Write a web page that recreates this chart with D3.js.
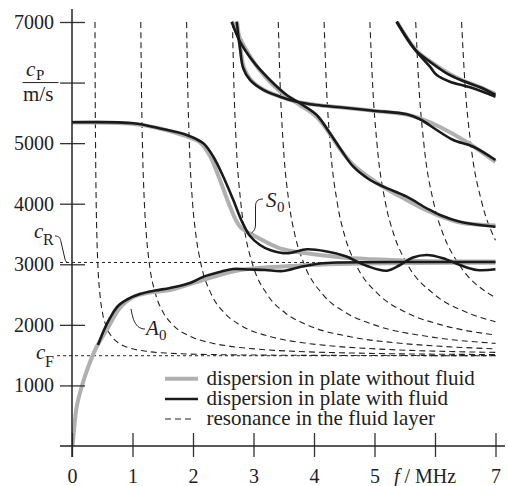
<!DOCTYPE html>
<html>
<head>
<meta charset="utf-8">
<script src="https://cdn.jsdelivr.net/npm/d3@7/dist/d3.min.js"></script>
<style>
  body { margin: 0; background: #fff; }
  text { font-family: "Liberation Serif", "Times New Roman", serif; fill: #222; }
</style>
</head>
<body>
<script>
// axis ticks
const fTicks = [0, 1, 2, 3, 4, 5, 6, 7];
const cTicks = [1000, 2000, 3000, 4000, 5000, 6000, 7000];
const cR = 3030;
const cF = 1490;

// dispersion in plate without fluid  [f / MHz, c / m/s]
const a0Plate = [[0,0],[0.012,45],[0.033,264],[0.078,649],[0.16,979],[0.269,1309],[0.408,1639],[0.574,1915],[0.793,2278],[1.013,2460],[1.289,2534],[1.62,2576],[2.116,2724],[2.777,2906],[3.769,2980],[4.43,3005],[5.752,3021],[7,3026]];
const s0Plate = [[0,5341],[0.959,5324],[1.455,5242],[1.868,5118],[2.116,5011],[2.281,4788],[2.446,4392],[2.612,3951],[2.777,3621],[3.053,3451],[3.438,3264],[3.879,3181],[4.43,3115],[4.98,3082],[5.752,3054],[7,3046]];
const mode1Plate = [[2.645,7005],[2.86,6571],[3.074,6241],[3.306,5977],[3.549,5770],[3.769,5630],[4.045,5432],[4.264,5151],[4.43,4903],[4.65,4639],[4.926,4425],[5.146,4276],[5.532,4061],[5.863,3888],[6.083,3797],[6.413,3690],[7,3640]];
const mode2Plate = [[2.727,7005],[2.785,6571],[2.843,6241],[2.959,6043],[3.174,5878],[3.438,5767],[3.714,5684],[4.045,5630],[4.43,5592],[4.98,5536],[5.532,5473],[5.752,5407],[6.083,5267],[6.524,5019],[7,4689]];
const mode3Plate = [[5.372,7005],[5.686,6538],[5.934,6340],[6.198,6167],[6.463,6034],[6.744,5927],[7,5811]];

// dispersion in plate with fluid
const a0Fluid = [[0.43,1668],[0.529,1915],[0.628,2113],[0.76,2311],[0.926,2427],[1.124,2510],[1.372,2567],[1.62,2609],[1.95,2691],[2.165,2790],[2.446,2873],[2.661,2922],[2.942,2914],[3.19,2906],[3.488,2889],[3.769,2955],[4.099,3013],[4.43,3030],[5.752,3038],[7,3038]];
const s0Fluid = [[0,5344],[1.013,5328],[1.455,5242],[1.896,5135],[2.17,4998],[2.336,4776],[2.501,4446],[2.666,4061],[2.805,3715],[2.942,3467],[3.107,3319],[3.273,3236],[3.554,3181],[3.884,3248],[4.215,3211],[4.512,3137],[4.876,2972],[5.207,2894],[5.421,2988],[5.636,3112],[5.868,3153],[6.132,3099],[6.413,2988],[6.694,2906],[7,2917]];
const mode1Fluid = [[2.64,7005],[2.777,6675],[2.997,6345],[3.273,6043],[3.549,5795],[3.769,5658],[4.045,5465],[4.264,5163],[4.43,4915],[4.65,4611],[4.926,4392],[5.146,4281],[5.532,4116],[5.863,3924],[6.083,3814],[6.413,3703],[7,3621]];
const mode2Fluid = [[2.722,7005],[2.777,6566],[2.831,6236],[2.942,6043],[3.162,5878],[3.438,5767],[3.714,5684],[4.045,5630],[4.43,5592],[4.98,5536],[5.532,5476],[5.752,5394],[6.028,5217],[6.302,5052],[6.633,4941],[7,4722]];
const mode3Fluid = [[5.367,7005],[5.674,6538],[5.917,6345],[6.193,6153],[6.468,6026],[6.744,5922],[7,5795]];
const mode4Fluid = [[5.367,7005],[5.674,6538],[5.917,6262],[6.028,6125],[6.248,6015],[6.579,5922],[7,5767]];

// resonance in the fluid layer
const resonance = [
  [[0.38,7000],[0.383,6000],[0.389,5000],[0.4,4000],[0.41,3500],[0.427,3000],[0.462,2500],[0.504,2200],[0.556,2000],[0.661,1800],[0.771,1700],[0.864,1650],[1.018,1600],[1.253,1560],[1.633,1530],[2.287,1510],[3.218,1500],[4.54,1495],[7,1492]],
  [[1.137,7000],[1.147,6000],[1.164,5000],[1.197,4000],[1.228,3500],[1.28,3000],[1.384,2500],[1.51,2200],[1.666,2000],[1.98,1800],[2.308,1700],[2.586,1650],[3.049,1600],[3.751,1560],[4.891,1530],[6.849,1510],[7,1509]],
  [[1.894,7000],[1.911,6000],[1.939,5000],[1.994,4000],[2.046,3500],[2.133,3000],[2.305,2500],[2.516,2200],[2.775,2000],[3.299,1800],[3.845,1700],[4.309,1650],[5.08,1600],[6.249,1560],[7,1545]],
  [[2.652,7000],[2.675,6000],[2.714,5000],[2.792,4000],[2.863,3500],[2.985,3000],[3.227,2500],[3.522,2200],[3.884,2000],[4.618,1800],[5.382,1700],[6.032,1650],[7,1604]],
  [[3.409,7000],[3.439,6000],[3.49,5000],[3.589,4000],[3.681,3500],[3.838,3000],[4.148,2500],[4.528,2200],[4.994,2000],[5.937,1800],[6.919,1700],[7,1694]],
  [[4.167,7000],[4.203,6000],[4.265,5000],[4.387,4000],[4.499,3500],[4.691,3000],[5.07,2500],[5.533,2200],[6.103,2000],[7,1832]],
  [[4.924,7000],[4.967,6000],[5.04,5000],[5.184,4000],[5.317,3500],[5.543,3000],[5.992,2500],[6.539,2200],[7,2051]],
  [[5.681,7000],[5.73,6000],[5.815,5000],[5.981,4000],[6.134,3500],[6.396,3000],[6.913,2500],[7,2446]],
  [[6.439,7000],[6.494,6000],[6.59,5000],[6.779,4000],[6.952,3500],[7,3398]]
];

const legendLabels = ['dispersion in plate without fluid', 'dispersion in plate with fluid', 'resonance in the fluid layer'];

const width = 508, height = 486;
const x = d3.scaleLinear().domain([0, 7]).range([72, 495.5]);
const y = d3.scaleLinear().domain([0, 7000]).range([446, 22]);

const svg = d3.select('body').append('svg')
  .attr('width', width).attr('height', height);

svg.append('defs').append('clipPath').attr('id', 'plot')
  .append('rect').attr('x', x(0)).attr('y', 20).attr('width', x(7) - x(0) + 2).attr('height', y(0) - 20);

const smooth = d3.line().x(d => x(d[0])).y(d => y(d[1])).curve(d3.curveCatmullRom.alpha(0.5));
const mono = d3.line().x(d => x(d[0])).y(d => y(d[1])).curve(d3.curveMonotoneX);

// reference velocities
[[cR, 60], [cF, 57]].forEach(([v, x0]) => {
  svg.append('line')
    .attr('x1', x0).attr('x2', x(7)).attr('y1', y(v)).attr('y2', y(v))
    .attr('stroke', '#222').attr('stroke-width', 1).attr('stroke-dasharray', '3,3');
});

const g = svg.append('g').attr('clip-path', 'url(#plot)');

g.selectAll('.res').data(resonance).enter().append('path')
  .attr('class', 'res')
  .attr('d', mono)
  .attr('fill', 'none').attr('stroke', '#222').attr('stroke-width', 1.1)
  .attr('stroke-dasharray', '6,4');

g.selectAll('.plate').data([a0Plate, s0Plate, mode1Plate, mode2Plate, mode3Plate]).enter().append('path')
  .attr('class', 'plate')
  .attr('d', smooth)
  .attr('fill', 'none').attr('stroke', '#b0b0b0').attr('stroke-width', 4);

g.selectAll('.fluid').data([a0Fluid, s0Fluid, mode1Fluid, mode2Fluid, mode3Fluid, mode4Fluid]).enter().append('path')
  .attr('class', 'fluid')
  .attr('d', smooth)
  .attr('fill', 'none').attr('stroke', '#1a1a1a').attr('stroke-width', 2.6);

// axes
const yAxis = d3.axisLeft(y).tickValues(cTicks).tickSize(12).tickPadding(6)
  .tickFormat(d => d === 6000 ? '' : d);
const ya = svg.append('g').attr('transform', `translate(${x(0)},0)`).call(yAxis);
ya.select('.domain').remove();
ya.selectAll('.tick line').attr('x1', 13).attr('stroke', '#333').attr('stroke-width', 1.3);
ya.selectAll('.tick text').style('font-size', '20px').attr('fill', '#222');

const xAxis = d3.axisBottom(x).tickValues(fTicks).tickSize(11).tickPadding(12)
  .tickFormat(d => d === 6 ? '' : d);
const xa = svg.append('g').attr('transform', `translate(0,${y(0)})`).call(xAxis);
xa.select('.domain').remove();
xa.selectAll('.tick line').attr('y1', -13).attr('stroke', '#333').attr('stroke-width', 1.3);
xa.selectAll('.tick text').style('font-size', '20px').attr('fill', '#222');

svg.append('line').attr('x1', x(0)).attr('x2', x(0)).attr('y1', 9).attr('y2', 457)
  .attr('stroke', '#222').attr('stroke-width', 1.5);
svg.append('line').attr('x1', 60).attr('x2', 505).attr('y1', y(0)).attr('y2', y(0))
  .attr('stroke', '#222').attr('stroke-width', 1.5);

// axis titles
const fl = svg.append('text').attr('x', 425).attr('y', 483).attr('text-anchor', 'middle').style('font-size', '20px');
fl.append('tspan').style('font-style', 'italic').text('f');
fl.append('tspan').text(' / MHz');

svg.append('text').attr('x', 26).attr('y', 76).style('font-size', '21px').style('font-style', 'italic').text('c');
svg.append('text').attr('x', 36).attr('y', 79.5).style('font-size', '15px').text('P');
svg.append('line').attr('x1', 22.5).attr('x2', 58.5).attr('y1', y(6000)).attr('y2', y(6000))
  .attr('stroke', '#222').attr('stroke-width', 1);
svg.append('text').attr('x', 23).attr('y', 101).style('font-size', '21px').text('m/s');

svg.append('text').attr('x', 34).attr('y', 238).style('font-size', '21px').style('font-style', 'italic').text('c');
svg.append('text').attr('x', 43).attr('y', 245).style('font-size', '16px').text('R');
svg.append('path').attr('d', 'M55,236 C59,236 60.5,238 61,242 L64.5,257 C65,260 66,262 67,262.5')
  .attr('fill', 'none').attr('stroke', '#222').attr('stroke-width', 1);

svg.append('text').attr('x', 36).attr('y', 359).style('font-size', '21px').style('font-style', 'italic').text('c');
svg.append('text').attr('x', 45).attr('y', 366.5).style('font-size', '16px').text('F');

// mode labels
svg.append('text').attr('x', 266).attr('y', 207).style('font-size', '21px').style('font-style', 'italic').text('S');
svg.append('text').attr('x', 277).attr('y', 212).style('font-size', '15px').text('0');
svg.append('path').attr('d', 'M263,199 C257,199 255.5,202 255.5,207 L255.5,225 C255.5,229 254,231 251.5,233')
  .attr('fill', 'none').attr('stroke', '#222').attr('stroke-width', 1);

svg.append('text').attr('x', 146).attr('y', 335).style('font-size', '21px').style('font-style', 'italic').text('A');
svg.append('text').attr('x', 159).attr('y', 340).style('font-size', '15px').text('0');
svg.append('path').attr('d', 'M131,309 C132.5,317 134,323 138,326.5 C140,328 142,329 145,329')
  .attr('fill', 'none').attr('stroke', '#222').attr('stroke-width', 1);

// legend
const legendY = [378.7, 399, 419];
const leg = svg.append('g');
leg.append('line').attr('x1', 165).attr('x2', 198).attr('y1', legendY[0]).attr('y2', legendY[0])
  .attr('stroke', '#b0b0b0').attr('stroke-width', 4);
leg.append('line').attr('x1', 165).attr('x2', 198).attr('y1', legendY[1]).attr('y2', legendY[1])
  .attr('stroke', '#1a1a1a').attr('stroke-width', 2.6);
leg.append('line').attr('x1', 165).attr('x2', 195).attr('y1', legendY[2]).attr('y2', legendY[2])
  .attr('stroke', '#222').attr('stroke-width', 1.1).attr('stroke-dasharray', '6,4');
leg.selectAll('text').data(legendLabels).enter().append('text')
  .attr('x', 206.5)
  .attr('y', (d, i) => legendY[i] + 5.8)
  .style('font-size', '21px')
  .text(d => d);
</script>
</body>
</html>
